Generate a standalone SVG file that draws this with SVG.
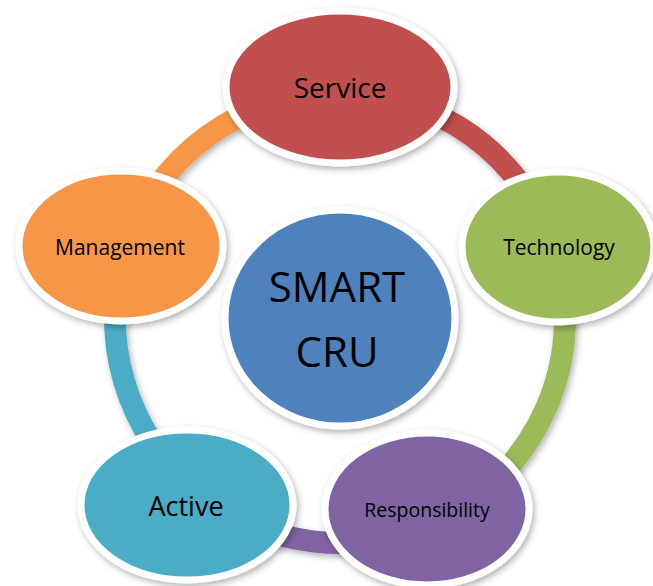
<svg xmlns="http://www.w3.org/2000/svg" width="653" height="586" viewBox="0 0 653 586">
<defs>
<filter id="sh" x="-20%" y="-20%" width="140%" height="140%">
<feDropShadow dx="2" dy="3" stdDeviation="3" flood-color="#000" flood-opacity="0.3"/>
</filter>
<style>
.ring{fill:none;stroke-width:22}
.node{stroke:#fff;stroke-width:7;filter:url(#sh)}
.lbl{font-family:"Open Sans","Noto Sans",sans-serif;fill:#000;text-anchor:middle}
</style>
</defs>
<rect width="653" height="586" fill="#fff"/>
<g id="connectors" filter="url(#sh)">
<path class="ring" stroke="#C0504D" d="M340,93 A225,225 0 0 1 554,248.5"/>
<path class="ring" stroke="#9BBB59" d="M554,248.5 A225,225 0 0 1 435.1,521.9"/>
<path class="ring" stroke="#8064A2" d="M435.1,521.9 A225,225 0 0 1 198.4,492.9"/>
<path class="ring" stroke="#4BACC6" d="M198.4,492.9 A225,225 0 0 1 126,248.5"/>
<path class="ring" stroke="#F79646" d="M126,248.5 A225,225 0 0 1 340,93"/>
</g>
<g id="service">
<ellipse class="node" cx="340" cy="87" rx="114" ry="76" fill="#C0504D"/>
<text class="lbl" x="340" y="98" font-size="28">Service</text>
</g>
<g id="management">
<ellipse class="node" cx="121" cy="246" rx="102" ry="75" fill="#F79646"/>
<text class="lbl" x="120" y="255" font-size="21">Management</text>
</g>
<g id="technology">
<ellipse class="node" cx="558" cy="247" rx="96" ry="75" fill="#9BBB59"/>
<text class="lbl" x="559" y="255" font-size="21">Technology</text>
</g>
<g id="active">
<ellipse class="node" cx="187" cy="505" rx="106" ry="75" fill="#4BACC6"/>
<text class="lbl" x="186" y="516" font-size="27">Active</text>
</g>
<g id="responsibility">
<ellipse class="node" cx="427" cy="509" rx="102" ry="76" fill="#8064A2"/>
<text class="lbl" x="427" y="517" font-size="19.5">Responsibility</text>
</g>
<g id="smart-cru">
<ellipse class="node" cx="340" cy="318" rx="115" ry="108" fill="#4F81BD"/>
<text class="lbl" x="337" y="302" font-size="42">SMART</text>
<text class="lbl" x="337" y="367" font-size="42">CRU</text>
</g>
</svg>
